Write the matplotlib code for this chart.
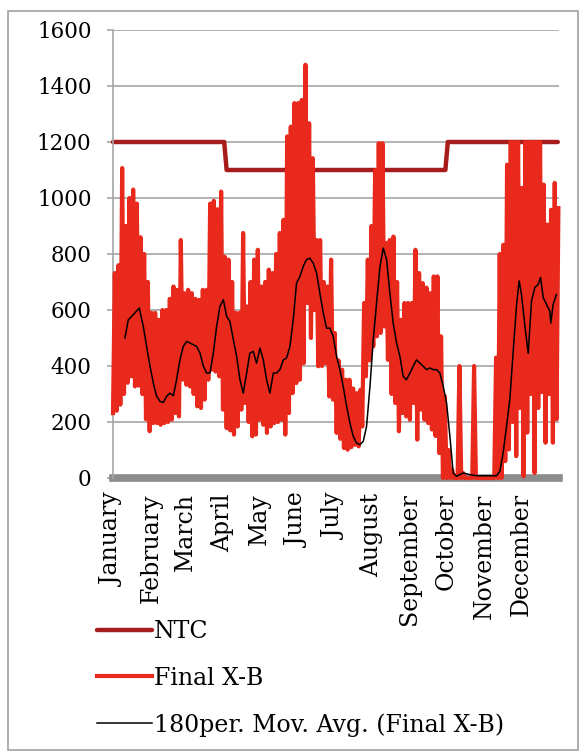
import numpy as np
import matplotlib
matplotlib.use("Agg")
import matplotlib.pyplot as plt
from matplotlib.patches import Rectangle

plt.rcParams['font.family'] = ['DejaVu Serif']

# Month labels and the day of year on which each month begins
months = ["January", "February", "March", "April", "May", "June", "July",
          "August", "September", "October", "November", "December"]
month_start = [0, 31, 59, 90, 120, 151, 181, 212, 243, 273, 304, 334]

# NTC: stepwise capacity limit through the year
ntc_day = [0, 91, 93, 272, 274, 364]
ntc_val = [1200, 1200, 1100, 1100, 1200, 1200]

# Final X-B: low and high of the flow within each 3-day block
xb_lo = [232, 240, 262, 300, 340, 363, 327, 330, 300, 210,
         167, 196, 196, 190, 196, 200, 208, 232, 220, 351,
         333, 327, 300, 256, 250, 280, 351, 387, 380, 363,
         244, 178, 170, 155, 184, 244, 268, 200, 149, 155,
         208, 190, 161, 184, 196, 200, 208, 155, 232, 303,
         339, 351, 410, 625, 500, 600, 399, 400, 410, 291,
         280, 161, 140, 107, 101, 110, 119, 113, 184, 363,
         420, 470, 506, 518, 541, 422, 300, 268, 167, 232,
         220, 208, 268, 137, 244, 208, 196, 173, 150, 89,
         0, 0, 0, 0, 0, 0, 0, 0, 0, 0,
         0, 0, 0, 0, 0, 0, 0, 60, 102, 200,
         78, 250, 6, 162, 300, 18, 250, 307, 126, 300,
         126, 210]
xb_hi = [732, 760, 1107, 900, 1000, 1030, 980, 860, 800, 700,
         590, 590, 565, 600, 600, 640, 684, 672, 850, 660,
         672, 660, 640, 636, 672, 672, 980, 990, 960, 1023,
         790, 780, 700, 590, 590, 875, 613, 700, 780, 815,
         684, 700, 744, 732, 800, 875, 922, 1220, 1255, 1339,
         1339, 1350, 1476, 1267, 1142, 850, 850, 700, 684, 780,
         518, 420, 387, 351, 351, 320, 303, 315, 625, 780,
         900, 1100, 1196, 1196, 839, 850, 862, 700, 565, 625,
         625, 625, 815, 732, 696, 680, 660, 720, 720, 506,
         292, 100, 30, 0, 400, 18, 0, 0, 400, 0,
         0, 0, 0, 0, 430, 800, 833, 1119, 1200, 1200,
         1200, 1036, 1200, 1200, 1200, 1200, 1200, 1048, 905, 958,
         1054, 964]

# 180-period moving average of Final X-B
ma_day = [9.8, 12.5, 15.3, 18, 21.5, 24.8, 27.5, 30.3, 33, 35.7,
          38.4, 41.2, 43.9, 46.6, 49.4, 52, 54.8, 57.5, 60.3, 63,
          65.7, 68.4, 71.2, 73.9, 76.6, 79.4, 82.1, 84.8, 87.5, 90.3,
          93, 95.7, 98.5, 101.2, 103.9, 106.6, 109.4, 112, 114.8, 117.5,
          120.3, 123, 125.7, 128.4, 131.2, 133.9, 136.6, 139.4, 142, 144.8,
          147.5, 150.2, 153, 155.7, 158.4, 161.1, 163.9, 166.6, 169.3, 172.1,
          174.8, 177.5, 180.2, 183, 185.7, 188.4, 191.2, 193.9, 196.6, 199.3,
          202.1, 204.8, 207.5, 210.3, 213, 215.7, 218.5, 221.2, 223.9, 226.6,
          229.3, 232.1, 234.8, 237.5, 240.2, 243, 245.7, 248.4, 251.2, 253.9,
          256.6, 259.3, 262.1, 264.8, 267.5, 270.3, 273, 275.7, 278.4, 281.2,
          286.6, 292.1, 297.5, 313.9, 316.6, 319.3, 322.1, 324.8, 327.5, 330.3,
          332.4, 334.3, 337, 339.8, 342.5, 345.2, 348, 349.9, 352.1, 354.8,
          357.5, 358.3, 360.2, 362.9]
ma_val = [500, 565, 577, 590, 607, 541, 470, 399, 339, 292,
          274, 270, 292, 303, 294, 351, 422, 470, 488, 482,
          476, 470, 446, 400, 375, 375, 446, 541, 613, 637,
          577, 559, 494, 434, 351, 303, 375, 446, 452, 410,
          464, 422, 351, 303, 375, 375, 387, 422, 428, 470,
          565, 696, 720, 756, 780, 785, 767, 732, 660, 589,
          535, 535, 506, 434, 387, 327, 256, 196, 149, 125,
          119, 131, 184, 327, 494, 625, 756, 821, 780, 660,
          553, 482, 434, 363, 351, 375, 399, 422, 410, 399,
          387, 393, 387, 387, 375, 327, 268, 149, 18, 6,
          18, 12, 8, 8, 24, 90, 186, 283, 451, 620,
          704, 655, 547, 445, 632, 680, 692, 716, 644, 620,
          596, 553, 620, 655]

yticks = [0, 200, 400, 600, 800, 1000, 1200, 1400, 1600]

# Interleave block lows and highs into one time series
block = np.arange(len(xb_lo)) * 3.0
xb_day = np.column_stack([block, block + 1.5]).ravel()
xb_val = np.column_stack([xb_lo, xb_hi]).ravel()

fig = plt.figure(figsize=(5.85, 7.55), dpi=100)
ax = fig.add_axes([113 / 585, 1 - 478 / 755, 446 / 585, 448 / 755])

grid_c = "#a6a6a6"
ax.set_ylim(0, 1600)
ax.set_xlim(0, 365)
ax.set_yticks(yticks)
ax.yaxis.grid(True, color=grid_c, lw=1.2, zorder=0)
ax.set_axisbelow(True)
for s in ["top", "right", "bottom"]:
    ax.spines[s].set_visible(False)
ax.spines["left"].set_color(grid_c)
ax.spines["left"].set_linewidth(1.2)
ax.tick_params(axis="y", length=4.5, width=1.2, color=grid_c, pad=11,
               labelsize=15.5)
ax.set_xticks(month_start)
ax.set_xticklabels(months, rotation=90, fontsize=17)
ax.tick_params(axis="x", length=0, pad=11)

# horizontal axis drawn as a heavy grey band
ax.axhline(0, color="#8c8c8c", lw=5.5, zorder=1.5, clip_on=False)

ax.plot(ntc_day, ntc_val, color="#a71d1d", lw=3.2, zorder=2,
        solid_capstyle="round", label="NTC", clip_on=False)
ax.plot(xb_day, xb_val, color="#e8291b", lw=3.0, zorder=3,
        label="Final X-B", clip_on=False)
ax.plot(ma_day, ma_val, color="black", lw=1.1, zorder=4,
        label="180per. Mov. Avg. (Final X-B)")

fig.legend(loc="upper left", bbox_to_anchor=(97 / 585, 1 - 620 / 755),
           frameon=False, fontsize=17, handlelength=2.35,
           handletextpad=0.05, labelspacing=1.0, borderpad=0,
           borderaxespad=0)

fig.patches.append(Rectangle((8 / 585, 1 - 750 / 755), 570 / 585, 739 / 755,
                             transform=fig.transFigure, fill=False,
                             edgecolor="#a0a0a0", lw=1.2))

fig.savefig("out.png", dpi=100)
